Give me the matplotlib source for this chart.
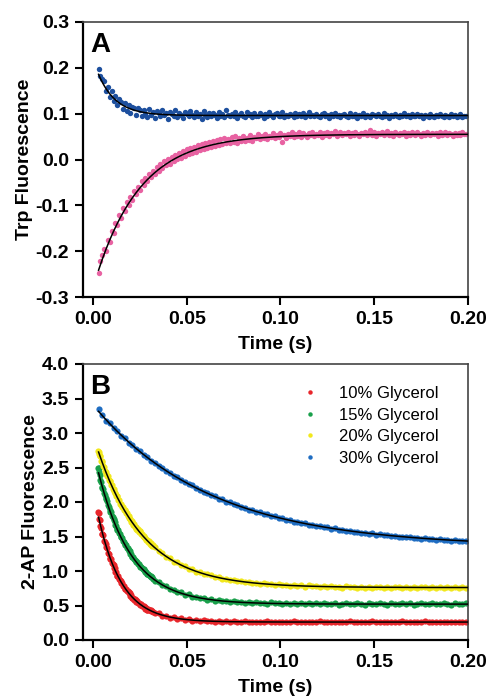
import numpy as np
import matplotlib
matplotlib.use("Agg")
import matplotlib.pyplot as plt
from matplotlib.lines import Line2D

plt.rcParams['font.family'] = ['Liberation Sans', 'DejaVu Sans']
plt.rcParams['axes.unicode_minus'] = False

# ---------------- data ----------------
# Panel A sampling times (s): from 0.003 s, 1 ms step, 197 samples
time_A = np.round(np.arange(197) * 0.001 + 0.003, 4)
# Panel B sampling times (s): from 0.003 s, 2 ms step, 99 samples
time_B = np.round(np.arange(99) * 0.002 + 0.003, 4)
# Panel B extra early samples (fast phase): from 0.0025 s, 0.5 ms step, 60 samples
time_B_early = np.round(np.arange(60) * 0.0005 + 0.0025, 5)

# Panel A : Trp fluorescence
trp_blue = [
    0.198, 0.183, 0.176, 0.171, 0.149, 0.159, 0.137, 0.150, 0.128, 0.139,
    0.119, 0.131, 0.126, 0.110, 0.123, 0.106, 0.118, 0.101, 0.115, 0.112,
    0.098, 0.113, 0.109, 0.096, 0.107, 0.100, 0.093, 0.110, 0.097, 0.104,
    0.091, 0.106, 0.101, 0.094, 0.109, 0.097, 0.102, 0.089, 0.104, 0.099,
    0.095, 0.107, 0.093, 0.101, 0.097, 0.090, 0.104, 0.099, 0.094, 0.106,
    0.098, 0.092, 0.103, 0.096, 0.100, 0.089, 0.105, 0.097, 0.093, 0.101,
    0.095, 0.102, 0.098, 0.091, 0.104, 0.096, 0.099, 0.093, 0.107, 0.097,
    0.094, 0.100, 0.096, 0.103, 0.091, 0.098, 0.101, 0.095, 0.092, 0.104,
    0.097, 0.099, 0.093, 0.101, 0.096, 0.094, 0.102, 0.098, 0.091, 0.100,
    0.095, 0.103, 0.097, 0.093, 0.099, 0.101, 0.094, 0.096, 0.104, 0.092,
    0.098, 0.095, 0.100, 0.097, 0.093, 0.102, 0.096, 0.099, 0.094, 0.101,
    0.092, 0.097, 0.103, 0.095, 0.098, 0.094, 0.100, 0.096, 0.093, 0.099,
    0.102, 0.095, 0.097, 0.091, 0.099, 0.096, 0.101, 0.094, 0.098, 0.092,
    0.097, 0.100, 0.095, 0.093, 0.102, 0.096, 0.094, 0.099, 0.091, 0.097,
    0.095, 0.101, 0.093, 0.098, 0.096, 0.092, 0.100, 0.097, 0.094, 0.099,
    0.096, 0.093, 0.101, 0.095, 0.098, 0.091, 0.097, 0.094, 0.100, 0.096,
    0.093, 0.098, 0.095, 0.102, 0.094, 0.097, 0.092, 0.099, 0.095, 0.096,
    0.100, 0.094, 0.097, 0.091, 0.098, 0.095, 0.093, 0.099, 0.096, 0.092,
    0.097, 0.094, 0.099, 0.095, 0.092, 0.098, 0.096, 0.093, 0.100, 0.094,
    0.097, 0.092, 0.096, 0.099, 0.093, 0.095, 0.094]
trp_pink = [
    -0.248, -0.221, -0.209, -0.196, -0.199, -0.176, -0.181, -0.155, -0.160, -0.138,
    -0.142, -0.121, -0.128, -0.106, -0.112, -0.093, -0.099, -0.082, -0.088, -0.068,
    -0.075, -0.059, -0.066, -0.047, -0.055, -0.040, -0.046, -0.031, -0.038, -0.024,
    -0.031, -0.017, -0.024, -0.010, -0.018, -0.004, -0.012, 0.001, -0.009, 0.006,
    -0.004, 0.010, 0.001, 0.014, 0.003, 0.018, 0.007, 0.022, 0.011, 0.025,
    0.014, 0.027, 0.017, 0.031, 0.020, 0.033, 0.022, 0.036, 0.025, 0.038,
    0.027, 0.040, 0.029, 0.043, 0.031, 0.044, 0.033, 0.047, 0.035, 0.045,
    0.036, 0.049, 0.038, 0.051, 0.037, 0.048, 0.040, 0.052, 0.041, 0.047,
    0.043, 0.053, 0.041, 0.050, 0.046, 0.055, 0.044, 0.051, 0.047, 0.056,
    0.045, 0.052, 0.049, 0.057, 0.046, 0.053, 0.050, 0.058, 0.039, 0.054,
    0.048, 0.056, 0.051, 0.059, 0.049, 0.055, 0.052, 0.060, 0.050, 0.057,
    0.053, 0.049, 0.058, 0.054, 0.061, 0.051, 0.056, 0.053, 0.059, 0.050,
    0.057, 0.054, 0.060, 0.052, 0.058, 0.055, 0.062, 0.051, 0.056, 0.059,
    0.053, 0.058, 0.055, 0.061, 0.052, 0.057, 0.054, 0.060, 0.056, 0.051,
    0.058, 0.055, 0.061, 0.053, 0.057, 0.064, 0.054, 0.059, 0.052, 0.058,
    0.055, 0.060, 0.053, 0.057, 0.062, 0.054, 0.058, 0.051, 0.059, 0.056,
    0.053, 0.058, 0.055, 0.061, 0.052, 0.057, 0.054, 0.060, 0.056, 0.053,
    0.059, 0.055, 0.052, 0.058, 0.054, 0.061, 0.056, 0.053, 0.058, 0.055,
    0.057, 0.052, 0.059, 0.054, 0.056, 0.060, 0.053, 0.058, 0.055, 0.052,
    0.058, 0.054, 0.057, 0.053, 0.059, 0.055, 0.056]

# Panel B : 2-AP fluorescence (2 ms grid)
ap_10 = [
    1.84, 1.53, 1.39, 1.18, 1.08, 0.93, 0.86, 0.74, 0.70, 0.61,
    0.58, 0.51, 0.50, 0.44, 0.43, 0.39, 0.385, 0.35, 0.355, 0.325,
    0.33, 0.305, 0.315, 0.29, 0.30, 0.28, 0.29, 0.275, 0.285, 0.27,
    0.28, 0.265, 0.275, 0.262, 0.272, 0.258, 0.27, 0.265, 0.255, 0.27,
    0.258, 0.268, 0.255, 0.265, 0.26, 0.272, 0.256, 0.263, 0.268, 0.254,
    0.265, 0.259, 0.27, 0.256, 0.262, 0.268, 0.255, 0.264, 0.258, 0.27,
    0.257, 0.263, 0.268, 0.254, 0.261, 0.266, 0.259, 0.272, 0.256, 0.262,
    0.267, 0.255, 0.262, 0.27, 0.258, 0.264, 0.256, 0.268, 0.26, 0.254,
    0.263, 0.269, 0.257, 0.262, 0.255, 0.266, 0.26, 0.271, 0.256, 0.263,
    0.258, 0.267, 0.254, 0.262, 0.268, 0.257, 0.263, 0.259, 0.265]
ap_15 = [
    2.49, 2.20, 2.06, 1.86, 1.75, 1.59, 1.50, 1.37, 1.31, 1.20,
    1.15, 1.06, 1.03, 0.95, 0.925, 0.86, 0.845, 0.79, 0.78, 0.735,
    0.73, 0.69, 0.69, 0.655, 0.66, 0.625, 0.63, 0.605, 0.61, 0.585,
    0.595, 0.57, 0.58, 0.56, 0.57, 0.55, 0.56, 0.545, 0.555, 0.535,
    0.55, 0.535, 0.545, 0.53, 0.54, 0.525, 0.545, 0.53, 0.535, 0.52,
    0.535, 0.52, 0.53, 0.515, 0.54, 0.525, 0.53, 0.515, 0.535, 0.52,
    0.53, 0.515, 0.525, 0.535, 0.51, 0.525, 0.53, 0.515, 0.52, 0.535,
    0.52, 0.51, 0.53, 0.525, 0.515, 0.535, 0.52, 0.51, 0.53, 0.525,
    0.515, 0.53, 0.52, 0.535, 0.51, 0.525, 0.53, 0.515, 0.52, 0.53,
    0.525, 0.515, 0.535, 0.52, 0.51, 0.53, 0.525, 0.515, 0.53]
ap_20 = [
    2.70, 2.59, 2.41, 2.31, 2.16, 2.08, 1.95, 1.88, 1.77, 1.72,
    1.61, 1.575, 1.49, 1.455, 1.375, 1.35, 1.285, 1.265, 1.20, 1.19,
    1.135, 1.125, 1.08, 1.07, 1.03, 1.025, 0.99, 0.985, 0.955, 0.95,
    0.935, 0.91, 0.91, 0.885, 0.89, 0.865, 0.87, 0.85, 0.855, 0.835,
    0.84, 0.825, 0.83, 0.815, 0.82, 0.805, 0.81, 0.80, 0.805, 0.79,
    0.80, 0.785, 0.795, 0.78, 0.79, 0.775, 0.79, 0.78, 0.785, 0.77,
    0.78, 0.765, 0.785, 0.77, 0.775, 0.76, 0.78, 0.765, 0.775, 0.76,
    0.77, 0.76, 0.775, 0.755, 0.77, 0.765, 0.76, 0.775, 0.755, 0.77,
    0.765, 0.755, 0.77, 0.76, 0.775, 0.755, 0.765, 0.77, 0.75, 0.765,
    0.76, 0.77, 0.755, 0.765, 0.76, 0.77, 0.755, 0.765, 0.76]
ap_30 = [
    3.35, 3.26, 3.18, 3.14, 3.07, 3.03, 2.96, 2.93, 2.86, 2.83,
    2.77, 2.74, 2.68, 2.65, 2.60, 2.57, 2.52, 2.495, 2.45, 2.425,
    2.38, 2.36, 2.315, 2.295, 2.255, 2.24, 2.20, 2.18, 2.145, 2.13,
    2.095, 2.085, 2.05, 2.04, 2.005, 1.995, 1.965, 1.955, 1.925, 1.92,
    1.89, 1.885, 1.855, 1.85, 1.825, 1.82, 1.795, 1.79, 1.765, 1.765,
    1.74, 1.74, 1.715, 1.715, 1.695, 1.69, 1.672, 1.67, 1.652, 1.65,
    1.632, 1.633, 1.615, 1.616, 1.598, 1.60, 1.582, 1.585, 1.568, 1.57,
    1.553, 1.556, 1.54, 1.545, 1.528, 1.532, 1.518, 1.52, 1.506, 1.51,
    1.497, 1.50, 1.487, 1.49, 1.479, 1.482, 1.47, 1.475, 1.463, 1.467,
    1.455, 1.46, 1.448, 1.453, 1.442, 1.447, 1.436, 1.441, 1.432]

# Panel B : fast-phase samples (0.5 ms grid)
ap_10_early = [
    1.86, 1.76, 1.74, 1.65, 1.62, 1.54, 1.52, 1.44, 1.42, 1.35,
    1.33, 1.26, 1.25, 1.19, 1.17, 1.12, 1.10, 1.05, 1.04, 0.99,
    0.98, 0.93, 0.925, 0.88, 0.875, 0.83, 0.83, 0.785, 0.785, 0.745,
    0.745, 0.705, 0.71, 0.675, 0.675, 0.64, 0.645, 0.61, 0.615, 0.585,
    0.59, 0.555, 0.565, 0.535, 0.54, 0.515, 0.52, 0.49, 0.50, 0.475,
    0.485, 0.455, 0.467, 0.44, 0.45, 0.428, 0.437, 0.415, 0.424, 0.40]
ap_15_early = [
    2.50, 2.43, 2.39, 2.32, 2.29, 2.22, 2.19, 2.13, 2.10, 2.04,
    2.02, 1.96, 1.93, 1.88, 1.86, 1.80, 1.785, 1.735, 1.715, 1.665,
    1.65, 1.605, 1.59, 1.545, 1.53, 1.49, 1.475, 1.435, 1.425, 1.385,
    1.375, 1.34, 1.33, 1.295, 1.285, 1.25, 1.245, 1.21, 1.205, 1.175,
    1.165, 1.135, 1.13, 1.10, 1.095, 1.07, 1.065, 1.04, 1.035, 1.01,
    1.005, 0.985, 0.98, 0.96, 0.955, 0.935, 0.932, 0.912, 0.908, 0.89]
ap_20_early = [
    2.74, 2.73, 2.67, 2.66, 2.59, 2.58, 2.52, 2.51, 2.45, 2.44,
    2.38, 2.375, 2.315, 2.31, 2.25, 2.25, 2.19, 2.19, 2.135, 2.13,
    2.08, 2.08, 2.025, 2.025, 1.975, 1.975, 1.925, 1.93, 1.88, 1.885,
    1.835, 1.84, 1.79, 1.795, 1.75, 1.755, 1.71, 1.715, 1.67, 1.68,
    1.635, 1.64, 1.60, 1.605, 1.565, 1.575, 1.535, 1.54, 1.505, 1.51,
    1.475, 1.48, 1.445, 1.455, 1.418, 1.43, 1.39, 1.40, 1.365, 1.375]

# single-exponential fit parameters: (offset, amplitude, tau)
fit_trp_blue = (0.096, 0.124, 0.0093)
fit_trp_pink = (0.055, -0.3365, 0.0237)
fit_ap_10 = (0.26, 1.932, 0.0125)
fit_ap_15 = (0.52, 2.253, 0.0177)
fit_ap_20 = (0.76, 2.22, 0.0245)
fit_ap_30 = (1.35, 2.06, 0.0625)

legend_labels = ['10% Glycerol', '15% Glycerol', '20% Glycerol', '30% Glycerol']
x_ticks = [0.00, 0.05, 0.10, 0.15, 0.20]
yA_ticks = [-0.3, -0.2, -0.1, 0.0, 0.1, 0.2, 0.3]
yB_ticks = [0.0, 0.5, 1.0, 1.5, 2.0, 2.5, 3.0, 3.5, 4.0]

# ---------------- styles ----------------
c_trp_blue = '#1d4f9e'
c_trp_pink = '#e862a2'
c_ap = ['#e8262b', '#19a04b', '#f2e81c', '#1f6dc2']

W, H = 488, 696
fig = plt.figure(figsize=(W / 100, H / 100), dpi=100)

def frac(l, t, r, b):
    return [l / W, 1 - b / H, (r - l) / W, (b - t) / H]

axA = fig.add_axes(frac(83, 22, 468, 297))
axB = fig.add_axes(frac(83, 364, 468, 640))

tfit = np.linspace(0.003, 0.2, 400)

def fit_curve(p):
    off, amp, tau = p
    return off + amp * np.exp(-tfit / tau)

# Panel A
axA.scatter(time_A, trp_blue, s=15, color=c_trp_blue, linewidths=0, zorder=2)
axA.scatter(time_A, trp_pink, s=15, color=c_trp_pink, linewidths=0, zorder=2)
axA.plot(tfit, fit_curve(fit_trp_blue), color='black', lw=1.1, zorder=3)
axA.plot(tfit, fit_curve(fit_trp_pink), color='black', lw=1.1, zorder=3)

# Panel B
early = [ap_10_early, ap_15_early, ap_20_early, None]
for vals, ev, fp, c in zip([ap_10, ap_15, ap_20, ap_30], early,
                           [fit_ap_10, fit_ap_15, fit_ap_20, fit_ap_30], c_ap):
    axB.scatter(time_B, vals, s=20, color=c, linewidths=0, zorder=2)
    if ev is not None:
        axB.scatter(time_B_early, ev, s=20, color=c, linewidths=0, zorder=2)
    axB.plot(tfit, fit_curve(fp), color='black', lw=1.1, zorder=3)

tick_font = dict(fontsize=14, fontweight='bold')
for ax, yt, yl, lab, letter in [
        (axA, yA_ticks, (-0.3, 0.3), 'Trp Fluorescence', 'A'),
        (axB, yB_ticks, (0.0, 4.0), '2-AP Fluorescence', 'B')]:
    ax.set_xlim(-0.0053, 0.2)
    ax.set_ylim(*yl)
    ax.set_xticks(x_ticks)
    ax.set_xticklabels(['{:.2f}'.format(v) for v in x_ticks], **tick_font)
    ax.set_yticks(yt)
    ax.set_yticklabels(['{:.1f}'.format(v) for v in yt], **tick_font)
    ax.tick_params(axis='both', direction='out', length=6, width=1.5, pad=4,
                   top=False, right=False)
    for s in ['left', 'bottom']:
        ax.spines[s].set_linewidth(1.6)
        ax.spines[s].set_color('black')
    for s in ['top', 'right']:
        ax.spines[s].set_linewidth(1.2)
        ax.spines[s].set_color('#444444')
    ax.set_xlabel('Time (s)', fontsize=14, fontweight='bold', labelpad=6)
    ax.set_ylabel(lab, fontsize=14, fontweight='bold', labelpad=2)
    ax.text(0.018, 0.965, letter, transform=ax.transAxes, ha='left', va='top',
            fontsize=20, fontweight='bold')

handles = [Line2D([], [], ls='none', marker='o', markersize=3.2,
                  markerfacecolor=c, markeredgewidth=0) for c in c_ap]
axB.legend(handles, legend_labels, loc='upper left', bbox_to_anchor=(0.54, 0.945),
           frameon=False, fontsize=12, handletextpad=1.0, labelspacing=0.4,
           handlelength=1.5, borderaxespad=0)

fig.savefig('out.png', dpi=100)
